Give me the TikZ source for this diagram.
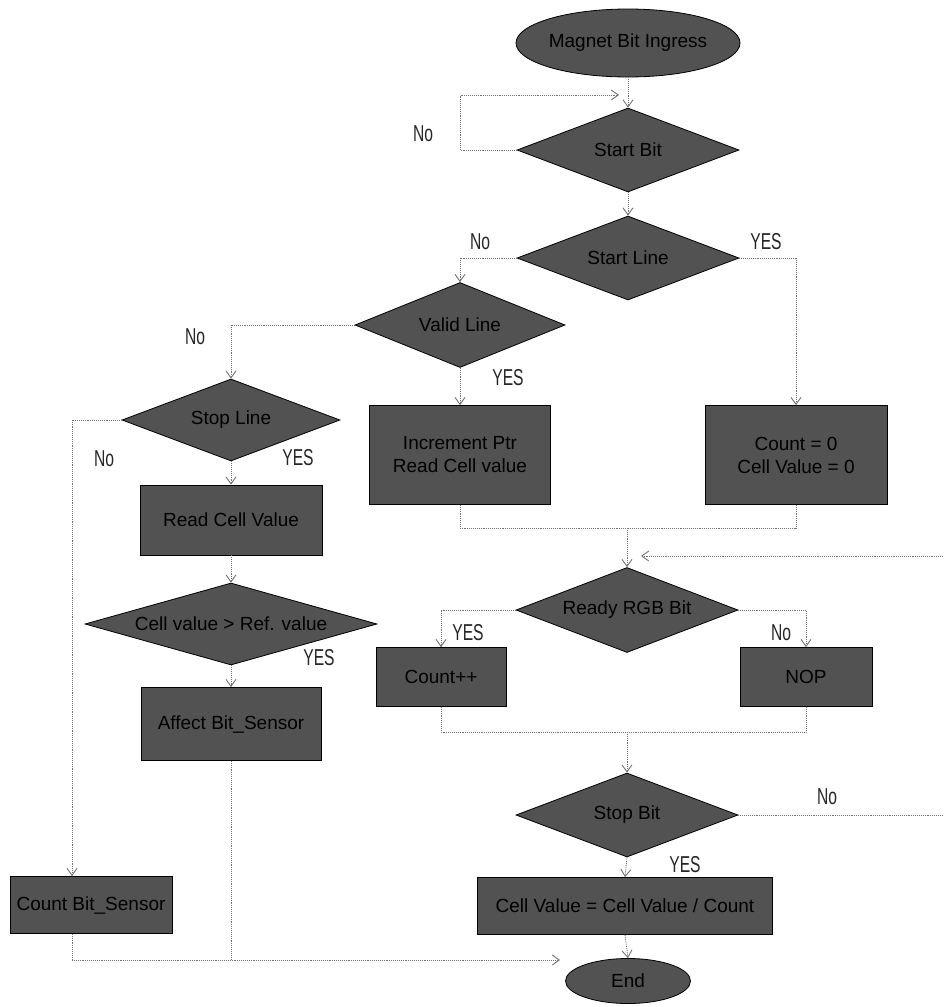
\documentclass[tikz,border=0pt]{standalone}
\usepackage{fontspec}
\setmainfont{Liberation Sans}
\newfontfamily\lblfont[FakeStretch=0.68]{Liberation Sans}
\usetikzlibrary{shapes.geometric,arrows.meta,calc}
\definecolor{shapegray}{gray}{0.32}
\definecolor{inktext}{gray}{0.0}
\tikzset{
  shapefill/.style={draw=black, line width=0.8pt, fill=shapegray, inner sep=0pt,
    text=inktext, align=center, font=\fontsize{19}{23}\selectfont},
  box/.style={shapefill, rectangle},
  dec/.style={shapefill, diamond},
  term/.style={shapefill, ellipse},
  conn/.style={draw=black!55, densely dotted, line width=0.9pt},
  arr/.style={conn, -{Straight Barb[length=7pt,width=10pt]}},
  lbl/.style={font=\lblfont\fontsize{23}{25}\selectfont, inner sep=0pt, text=black!85},
}
\begin{document}
\begin{tikzpicture}[x=1pt,y=-1pt]
\useasboundingbox (0,0) rectangle (943,1007);
\fill[white] (0,0) rectangle (943,1007);

% nodes
\node[term, minimum width=200, minimum height=68] (start) at (628,43) {Magnet Bit Ingress};
\node[dec, minimum width=222, minimum height=84, shape aspect=2.64] (d1) at (628,150) {Start Bit};
\node[dec, minimum width=222, minimum height=84, shape aspect=2.64] (d2) at (628,258) {Start Line};
\node[dec, minimum width=210, minimum height=85, shape aspect=2.47] (d3) at (460,325) {Valid Line};
\node[box, minimum width=181, minimum height=99] (r1) at (460,455) {Increment Ptr\\Read Cell value};
\node[box, minimum width=182, minimum height=99] (r2) at (796,455) {Count = 0\\Cell Value = 0};
\node[dec, minimum width=218, minimum height=82, shape aspect=2.66] (d4) at (231,420) {Stop Line};
\node[box, minimum width=182, minimum height=70] (r3) at (231,520) {Read Cell Value};
\node[dec, minimum width=292, minimum height=82, shape aspect=3.5] (d5) at (231,624) {Cell value > Ref. value};
\node[box, minimum width=180, minimum height=73] (r4) at (231,724) {Affect Bit\_Sensor};
\node[box, minimum width=162, minimum height=57] (r6) at (91,905) {Count Bit\_Sensor};
\node[dec, minimum width=222, minimum height=85, shape aspect=2.6] (d6) at (627,610) {Ready RGB Bit};
\node[box, minimum width=130, minimum height=59] (r7) at (441,677) {Count++};
\node[box, minimum width=132, minimum height=59] (r8) at (806,677) {NOP};
\node[dec, minimum width=222, minimum height=84, shape aspect=2.64] (d7) at (627,815) {Stop Bit};
\node[box, minimum width=295, minimum height=57] (r5) at (625,906) {Cell Value = Cell Value / Count};
\node[term, minimum width=125, minimum height=45] (end) at (628,981) {End};

% helper coordinates
\coordinate (lc) at (460,95);
\coordinate (loopin) at (619,95);
\coordinate (j1) at (627,528);
\coordinate (j2) at (627,732);
\coordinate (far1) at (960,815);
\coordinate (far2) at (960,556);
\coordinate (ret) at (641,556);
\coordinate (bl) at (72,960);
\coordinate (endin) at (560,960);

% connectors
\draw[arr] (start.south) -- (d1.north);
\draw[arr] (d1.west) -| (lc) -- (loopin);
\draw[arr] (d1.south) -- (d2.north);
\draw[arr] (d2.west) -| (d3.north);
\draw[arr] (d2.east) -| (r2.north);
\draw[arr] (d3.south) -- (r1.north);
\draw[arr] (d3.west) -| (d4.north);
\draw[arr] (d4.south) -- (r3.north);
\draw[arr] (d4.west) -| ([xshift=-19pt]r6.north);
\draw[arr] (r3.south) -- (d5.north);
\draw[arr] (d5.south) -- (r4.north);
\draw[conn] ([xshift=-19pt]r6.south) -- (bl);
\draw[conn] (r4.south) -- (r4.south |- bl);
\draw[arr] (bl) -- (endin);
\draw[conn] (r1.south) |- (j1);
\draw[conn] (r2.south) |- (j1);
\draw[arr] (j1) -- (d6.north);
\draw[arr] (d6.west) -| (r7.north);
\draw[arr] (d6.east) -| (r8.north);
\draw[conn] (r7.south) |- (j2);
\draw[conn] (r8.south) |- (j2);
\draw[arr] (j2) -- (d7.north);
\draw[arr] (d7.east) -- (far1) -- (far2) -- (ret);
\draw[arr] (d7.south) -- (r5.north);
\draw[arr] (r5.south) -- (end.north);

% labels
\node[lbl] (l1) at (423,134) {No};
\node[lbl] (l2) at (480,242) {No};
\node[lbl] (l3) at (766,242) {YES};
\node[lbl] (l4) at (195,337) {No};
\node[lbl] (l5) at (508,378) {YES};
\node[lbl] (l6) at (104,459) {No};
\node[lbl] (l7) at (298,458) {YES};
\node[lbl] (l8) at (319,658) {YES};
\node[lbl] (l9) at (468,633) {YES};
\node[lbl] (l10) at (781,633) {No};
\node[lbl] (l11) at (827,797) {No};
\node[lbl] (l12) at (685,865) {YES};
\end{tikzpicture}
\end{document}
